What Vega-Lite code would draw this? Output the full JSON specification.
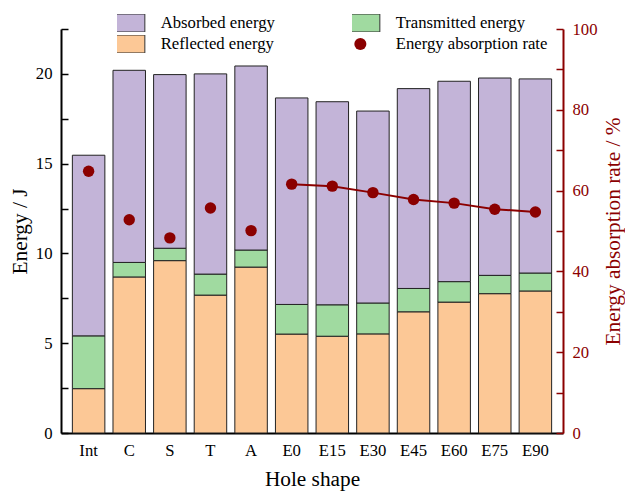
{
  "$schema": "https://vega.github.io/schema/vega-lite/v6.json",
  "width": 502,
  "height": 404,
  "autosize": "none",
  "padding": {"left": 61, "top": 29, "right": 62, "bottom": 59},
  "config": {
    "font": "Liberation Serif",
    "view": {"stroke": null},
    "axis": {
      "grid": false,
      "labelFontSize": 16.7,
      "titleFontSize": 21.3,
      "titleFontWeight": "normal",
      "labelColor": "black",
      "titleColor": "black",
      "domainWidth": 2
    },
    "legend": {
      "orient": "none",
      "legendX": 56,
      "legendY": -15,
      "direction": "vertical",
      "columns": 2,
      "columnPadding": 77,
      "rowPadding": 3,
      "clipHeight": 18,
      "padding": 0,
      "offset": 0,
      "symbolType": "M-1,-0.46H1V0.46H-1Z",
      "symbolSize": 1521,
      "symbolStrokeColor": "#333333",
      "symbolStrokeWidth": 1,
      "symbolOpacity": 1,
      "labelFont": "Liberation Serif",
      "labelFontSize": 16.7,
      "labelColor": "black",
      "labelOffset": 27,
      "labelLimit": 300
    }
  },
  "datasets": {
    "energy": [
      {"shape": "Int", "component": "Reflected energy", "energy": 2.47},
      {"shape": "Int", "component": "Transmitted energy", "energy": 2.94},
      {"shape": "Int", "component": "Absorbed energy", "energy": 10.06},
      {"shape": "C", "component": "Reflected energy", "energy": 8.69},
      {"shape": "C", "component": "Transmitted energy", "energy": 0.81},
      {"shape": "C", "component": "Absorbed energy", "energy": 10.70},
      {"shape": "S", "component": "Reflected energy", "energy": 9.60},
      {"shape": "S", "component": "Transmitted energy", "energy": 0.69},
      {"shape": "S", "component": "Absorbed energy", "energy": 9.67},
      {"shape": "T", "component": "Reflected energy", "energy": 7.68},
      {"shape": "T", "component": "Transmitted energy", "energy": 1.17},
      {"shape": "T", "component": "Absorbed energy", "energy": 11.15},
      {"shape": "A", "component": "Reflected energy", "energy": 9.24},
      {"shape": "A", "component": "Transmitted energy", "energy": 0.95},
      {"shape": "A", "component": "Absorbed energy", "energy": 10.25},
      {"shape": "E0", "component": "Reflected energy", "energy": 5.51},
      {"shape": "E0", "component": "Transmitted energy", "energy": 1.65},
      {"shape": "E0", "component": "Absorbed energy", "energy": 11.50},
      {"shape": "E15", "component": "Reflected energy", "energy": 5.39},
      {"shape": "E15", "component": "Transmitted energy", "energy": 1.75},
      {"shape": "E15", "component": "Absorbed energy", "energy": 11.31},
      {"shape": "E30", "component": "Reflected energy", "energy": 5.52},
      {"shape": "E30", "component": "Transmitted energy", "energy": 1.72},
      {"shape": "E30", "component": "Absorbed energy", "energy": 10.69},
      {"shape": "E45", "component": "Reflected energy", "energy": 6.75},
      {"shape": "E45", "component": "Transmitted energy", "energy": 1.30},
      {"shape": "E45", "component": "Absorbed energy", "energy": 11.13},
      {"shape": "E60", "component": "Reflected energy", "energy": 7.29},
      {"shape": "E60", "component": "Transmitted energy", "energy": 1.14},
      {"shape": "E60", "component": "Absorbed energy", "energy": 11.16},
      {"shape": "E75", "component": "Reflected energy", "energy": 7.76},
      {"shape": "E75", "component": "Transmitted energy", "energy": 1.02},
      {"shape": "E75", "component": "Absorbed energy", "energy": 10.99},
      {"shape": "E90", "component": "Reflected energy", "energy": 7.91},
      {"shape": "E90", "component": "Transmitted energy", "energy": 1.00},
      {"shape": "E90", "component": "Absorbed energy", "energy": 10.81}
    ],
    "rate": [
      {"shape": "Int", "rate": 64.8},
      {"shape": "C", "rate": 52.8},
      {"shape": "S", "rate": 48.3},
      {"shape": "T", "rate": 55.7},
      {"shape": "A", "rate": 50.1},
      {"shape": "E0", "rate": 61.6},
      {"shape": "E15", "rate": 61.1},
      {"shape": "E30", "rate": 59.5},
      {"shape": "E45", "rate": 57.8},
      {"shape": "E60", "rate": 56.9},
      {"shape": "E75", "rate": 55.4},
      {"shape": "E90", "rate": 54.7}
    ]
  },
  "layer": [
    {
      "data": {"name": "energy"},
      "transform": [
        {"calculate": "indexof(['Reflected energy', 'Transmitted energy', 'Absorbed energy'], datum.component)", "as": "stack_rank"}
      ],
      "mark": {"type": "bar", "stroke": "#222222", "strokeWidth": 1},
      "encoding": {
        "x": {
          "field": "shape",
          "type": "nominal",
          "sort": ["Int", "C", "S", "T", "A", "E0", "E15", "E30", "E45", "E60", "E75", "E90"],
          "scale": {"paddingInner": 0.2, "paddingOuter": 0.28},
          "axis": {
            "title": "Hole shape",
            "labelAngle": 0,
            "ticks": false,
            "domainColor": "black",
            "labelPadding": 9,
            "titlePadding": 10
          }
        },
        "y": {
          "field": "energy",
          "type": "quantitative",
          "stack": "zero",
          "scale": {"domain": [0, 22.5], "nice": false},
          "axis": {
            "title": "Energy / J",
            "values": [0, 2.5, 5, 7.5, 10, 12.5, 15, 17.5, 20, 22.5],
            "labelExpr": "datum.value % 5 === 0 ? datum.label : ''",
            "tickSize": -7,
            "tickWidth": 1.5,
            "tickColor": "black",
            "domainColor": "black",
            "labelPadding": 16,
            "titlePadding": 5,
            "encode": {
              "ticks": {"update": {"x2": {"signal": "datum.value % 5 === 0 ? 7 : 4"}}}
            }
          }
        },
        "order": {"field": "stack_rank", "type": "quantitative", "sort": "ascending"},
        "color": {
          "field": "component",
          "type": "nominal",
          "scale": {
            "domain": ["Absorbed energy", "Reflected energy", "Transmitted energy", "Energy absorption rate"],
            "range": ["#C3B4D8", "#FCC896", "#A0DAA0", "#8B0000"]
          },
          "legend": {
            "title": null,
            "encode": {
              "symbols": {
                "update": {
                  "shape": {"signal": "datum.value === 'Energy absorption rate' ? 'circle' : 'M-1,-0.46H1V0.46H-1Z'"},
                  "size": {"signal": "datum.value === 'Energy absorption rate' ? 145 : 1521"},
                  "strokeWidth": {"signal": "datum.value === 'Energy absorption rate' ? 0 : 1"}
                }
              }
            }
          }
        }
      }
    },
    {
      "data": {"name": "rate"},
      "encoding": {
        "x": {
          "field": "shape",
          "type": "nominal",
          "sort": ["Int", "C", "S", "T", "A", "E0", "E15", "E30", "E45", "E60", "E75", "E90"]
        },
        "y": {
          "field": "rate",
          "type": "quantitative",
          "scale": {"domain": [0, 100], "nice": false},
          "axis": {
            "orient": "right",
            "title": "Energy absorption rate / %",
            "values": [0, 10, 20, 30, 40, 50, 60, 70, 80, 90, 100],
            "labelExpr": "datum.value % 20 === 0 ? datum.label : ''",
            "tickSize": -7,
            "tickWidth": 1.5,
            "tickColor": "#8B0000",
            "domainColor": "#8B0000",
            "labelColor": "#8B0000",
            "titleColor": "#8B0000",
            "titleAngle": 270,
            "titleBaseline": "top",
            "labelPadding": 16,
            "titlePadding": 5,
            "encode": {
              "ticks": {"update": {"x2": {"signal": "datum.value % 20 === 0 ? -7 : -4"}}}
            }
          }
        }
      },
      "layer": [
        {
          "transform": [{"filter": {"field": "shape", "oneOf": ["E0", "E15", "E30", "E45", "E60", "E75", "E90"]}}],
          "mark": {"type": "line", "color": "#8B0000", "strokeWidth": 2}
        },
        {
          "mark": {"type": "point", "filled": true, "size": 130, "opacity": 1},
          "encoding": {
            "color": {"datum": "Energy absorption rate", "type": "nominal"}
          }
        }
      ]
    }
  ],
  "resolve": {"scale": {"y": "independent"}}
}
